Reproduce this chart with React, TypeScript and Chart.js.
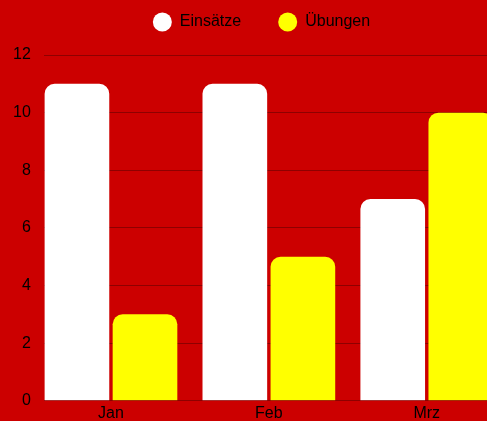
import React, { useEffect, useRef } from "react";
import { Chart, registerables } from "chart.js";

Chart.register(...registerables);

const months = ["Jan", "Feb", "Mrz"];
const seriesNames = ["Einsätze", "Übungen"];
const einsaetze = [11, 11, 7];
const uebungen = [3, 5, 10];
const yTicks = [0, 2, 4, 6, 8, 10, 12];

const FONT = "'Liberation Sans', Arial, Helvetica, sans-serif";
const RED = "#cc0000";

export default function App() {
  const ref = useRef<HTMLCanvasElement>(null);

  useEffect(() => {
    document.body.style.margin = "0";
    document.body.style.background = RED;
    const font = { family: FONT, size: 16 };
    const chart = new Chart(ref.current!, {
      type: "bar",
      data: {
        datasets: [
          {
            label: seriesNames[0],
            data: einsaetze.map((v, i) => ({ x: i, y: v })),
            backgroundColor: "#ffffff",
            borderColor: "#ffffff",
            borderWidth: 0,
            borderRadius: 10,
            borderSkipped: "bottom",
            categoryPercentage: 0.862,
            barPercentage: 0.95,
          },
          {
            label: seriesNames[1],
            data: uebungen.map((v, i) => ({ x: i, y: v })),
            backgroundColor: "#ffff00",
            borderColor: "#ffff00",
            borderWidth: 0,
            borderRadius: 10,
            borderSkipped: "bottom",
            categoryPercentage: 0.862,
            barPercentage: 0.95,
          },
        ],
      },
      options: {
        responsive: false,
        animation: false,
        layout: { autoPadding: false, padding: { left: 0, right: 0, top: 0, bottom: 0 } },
        plugins: {
          legend: {
            position: "top",
            weight: 1000,
            labels: {
              usePointStyle: true,
              pointStyle: "circle",
              pointStyleWidth: 19,
              boxHeight: 13.4,
              padding: 37,
              color: "#000",
              font,
            },
          },
          title: {
            display: true,
            text: "",
            weight: 500,
            padding: 0,
            font: { size: 15, lineHeight: 1 },
          },
          tooltip: { enabled: false },
        },
        scales: {
          x: {
            type: "linear",
            min: -0.4254,
            max: 2.6095,
            bounds: "data",
            offset: false,
            grid: { display: false, drawTicks: false, offset: false },
            border: { display: false },
            afterBuildTicks: (scale: any) => {
              scale.ticks = months.map((_, i) => ({ value: i }));
            },
            ticks: {
              autoSkip: false,
              maxRotation: 0,
              color: "#000",
              font,
              padding: 3,
              callback: (v: any) => (months[v] !== undefined ? months[v] : ""),
            },
          },
          y: {
            min: yTicks[0],
            max: yTicks[yTicks.length - 1],
            grid: { color: "rgba(0,0,0,0.3)", drawTicks: false, lineWidth: 1 },
            border: { display: false },
            ticks: { stepSize: yTicks[1] - yTicks[0], padding: 13, color: "#000", font },
          },
        },
      },
    } as any);
    return () => chart.destroy();
  }, []);

  return (
    <div
      style={{
        position: "relative",
        width: 487,
        height: 421,
        overflow: "hidden",
        background: RED,
      }}
    >
      <canvas
        ref={ref}
        width={523}
        height={449}
        style={{ position: "absolute", left: 0, top: -23, width: 523, height: 449 }}
      />
    </div>
  );
}
